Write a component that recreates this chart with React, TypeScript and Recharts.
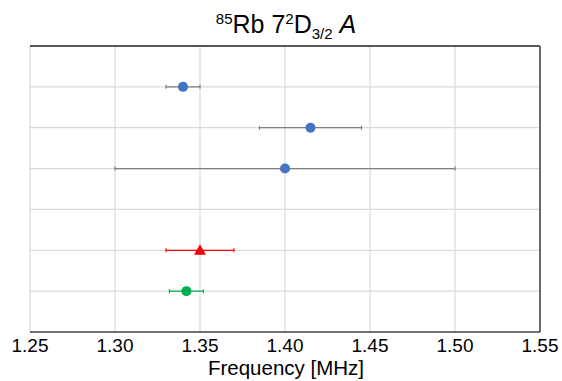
import { ScatterChart, Scatter, XAxis, YAxis, CartesianGrid, ErrorBar, ReferenceLine } from 'recharts'

// rows counted from the bottom of the plot (0..7)
const blueRows = [6, 5, 4]
const blueFreq = [1.34, 1.415, 1.4]
const blueErr = [0.01, 0.03, 0.1]

const redRows = [2]
const redFreq = [1.35]
const redErr = [0.02]

const greenRows = [1]
const greenFreq = [1.342]
const greenErr = [0.01]

const xTicks = [1.25, 1.3, 1.35, 1.4, 1.45, 1.5, 1.55]
const yTicks = [0, 1, 2, 3, 4, 5, 6, 7]
const gridRows = [1, 2, 3, 4, 5, 6]

const build = (rows: number[], freq: number[], err: number[]) =>
  rows.map((r, i) => ({ x: freq[i], y: r, err: err[i] }))

const blueData = build(blueRows, blueFreq, blueErr)
const redData = build(redRows, redFreq, redErr)
const greenData = build(greenRows, greenFreq, greenErr)

const FONT = 'Arial, "Liberation Sans", sans-serif'

const Dot = (color: string) => (props: any) => (
  <circle cx={props.cx} cy={props.cy} r={5} fill={color} />
)

const Tri = (props: any) => {
  const { cx, cy } = props
  return <polygon points={`${cx},${cy - 6} ${cx + 6},${cy + 4.5} ${cx - 6},${cy + 4.5}`} fill="#FF0000" />
}

export default function App() {
  return (
    <div style={{ position: 'absolute', left: 0, top: 0, width: 562, height: 381, background: '#fff', fontFamily: FONT }}>
      <div style={{ position: 'absolute', left: 0, width: 572, top: 4, textAlign: 'center', fontSize: 25, color: '#000', lineHeight: '30px' }}>
        <sup style={{ fontSize: 15 }}>85</sup>Rb 7<sup style={{ fontSize: 15 }}>2</sup>D<sub style={{ fontSize: 15 }}>3/2</sub> <i>A</i>
      </div>
      <ScatterChart width={562} height={381} margin={{ top: 46, right: 22, bottom: 0, left: 30 }}>
        <CartesianGrid stroke="#d9d9d9" strokeWidth={1.2} horizontal={false} />
        <XAxis
          type="number"
          dataKey="x"
          domain={[1.25, 1.55]}
          ticks={xTicks}
          tickFormatter={(v: number) => v.toFixed(2)}
          interval={0}
          tickLine={false}
          tickSize={0}
          tickMargin={7}
          axisLine={{ stroke: '#404040', strokeWidth: 1.5 }}
          tick={{ fill: '#000', fontSize: 19, fontFamily: FONT }}
          height={49}
        />
        <YAxis
          type="number"
          dataKey="y"
          domain={[0, 7]}
          ticks={yTicks}
          tick={false}
          tickLine={false}
          width={0}
          axisLine={{ stroke: '#6a6a6a', strokeWidth: 2 }}
        />
        {gridRows.map((r) => (
          <ReferenceLine key={r} y={r} stroke="#d9d9d9" strokeWidth={1.2} />
        ))}
        <ReferenceLine y={7} stroke="#222" strokeWidth={1.5} />
        <ReferenceLine x={1.55} stroke="#6a6a6a" strokeWidth={2} />
        <Scatter data={blueData} shape={Dot('#4472C4')} isAnimationActive={false}>
          <ErrorBar dataKey="err" direction="x" width={2} stroke="#7f7f7f" strokeWidth={1.2} />
        </Scatter>
        <Scatter data={redData} shape={Tri} isAnimationActive={false}>
          <ErrorBar dataKey="err" direction="x" width={2} stroke="#FF0000" strokeWidth={1.2} />
        </Scatter>
        <Scatter data={greenData} shape={Dot('#00B050')} isAnimationActive={false}>
          <ErrorBar dataKey="err" direction="x" width={2} stroke="#00B050" strokeWidth={1.2} />
        </Scatter>
      </ScatterChart>
      <div style={{ position: 'absolute', left: 0, width: 572, top: 356, textAlign: 'center', fontSize: 20.5, color: '#000', lineHeight: '24px' }}>
        Frequency [MHz]
      </div>
    </div>
  )
}
